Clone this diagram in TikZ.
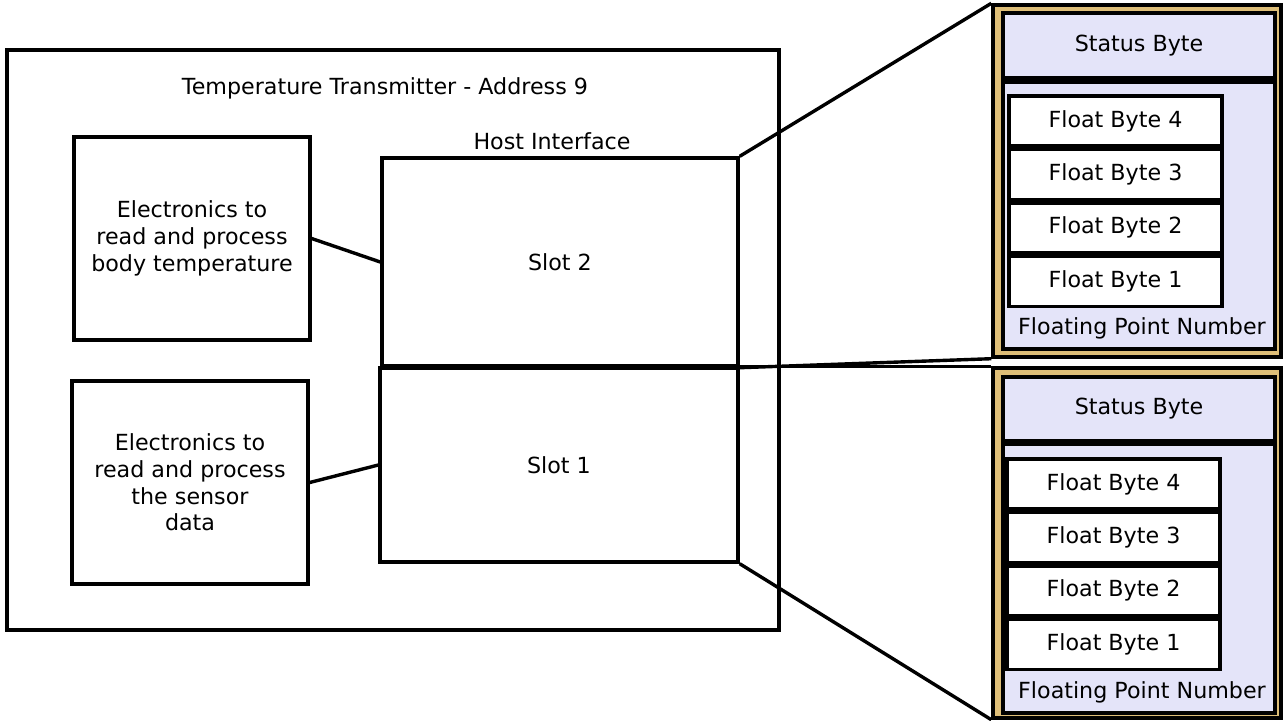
\documentclass[tikz,border=0pt]{standalone}
\usepackage{fontspec}
\setmainfont{DejaVu Sans}
\definecolor{framegold}{RGB}{222,190,120}
\definecolor{regfill}{RGB}{228,228,249}
\tikzstyle{box} = [rectangle, draw, line width=1.7pt, align=center, inner sep=0pt]
\tikzstyle{frame} = [box, fill=framegold, minimum width=144pt]
\tikzstyle{reg} = [box, fill=regfill, minimum width=136pt]
\tikzstyle{fbyte} = [box, fill=white, minimum width=106.5pt, minimum height=25pt]
\tikzstyle{line} = [draw, line width=1.7pt]
\usetikzlibrary{positioning}

\begin{document}
\begin{tikzpicture}[x=0.5pt, y=-0.5pt, node distance=0pt, font=\fontsize{11.1}{13.4}\selectfont]
		\useasboundingbox (0,0) rectangle (1284,720);
		% transmitter
		\node[box, minimum width=386pt, minimum height=290pt] (tt) at (393,340) {};
		\node (title) at (385,88) {Temperature Transmitter - Address 9};
		\node[box, minimum width=118pt, minimum height=101.5pt] (bodyel) at (192,238.5) {Electronics to\\read and process\\body temperature};
		\node[box, minimum width=118pt, minimum height=101.5pt] (sensel) at (190,482.5) {Electronics to\\read and process\\the sensor\\data};
		\node (hostif) at (552,141) {Host Interface};
		\node[box, minimum width=178pt, minimum height=104pt] (slot2) at (560,262) {Slot 2};
		\node[box, minimum width=179pt, minimum height=97pt] (slot1) at (559,465) {Slot 1};
		
		% slot 2 contents
		\node[frame, minimum height=176pt] (frame2) at (1137,181) {};
		\node[reg, minimum height=32.5pt] (stat2) at (1139,45.5) {Status Byte};
		\node[reg, minimum height=133.5pt] (fpn2) at (1139,215.5) {};
		\node[fbyte] (fb24) at (1115.5,121) {Float Byte 4};
		\node[fbyte, below=of fb24] (fb23) {Float Byte 3};
		\node[fbyte, below=of fb23] (fb22) {Float Byte 2};
		\node[fbyte, below=of fb22] (fb21) {Float Byte 1};
		\node (fpnl2) at (1142,328) {Floating Point Number};
		
		% slot 1 contents
		\node[frame, minimum height=175pt] (frame1) at (1137,543) {};
		\node[reg, minimum height=32pt] (stat1) at (1139,409) {Status Byte};
		\node[reg, minimum height=134.5pt] (fpn1) at (1139,578.5) {};
		\node[fbyte] (fb14) at (1113.5,484) {Float Byte 4};
		\node[fbyte, below=of fb14] (fb13) {Float Byte 3};
		\node[fbyte, below=of fb13] (fb12) {Float Byte 2};
		\node[fbyte, below=of fb12] (fb11) {Float Byte 1};
		\node (fpnl1) at (1142,692) {Floating Point Number};
		
		\path[line] (bodyel.east) -- (slot2.west);
		\path[line] (sensel.east) -- (slot1.west);
		\path[line] (slot2.north east) -- (frame2.north west);
		\path[line] (slot2.south east) -- (frame2.south west);
		\path[line] (slot1.north east) -- (frame1.north west);
		\path[line] (slot1.south east) -- (frame1.south west);
	\end{tikzpicture}
\end{document}
